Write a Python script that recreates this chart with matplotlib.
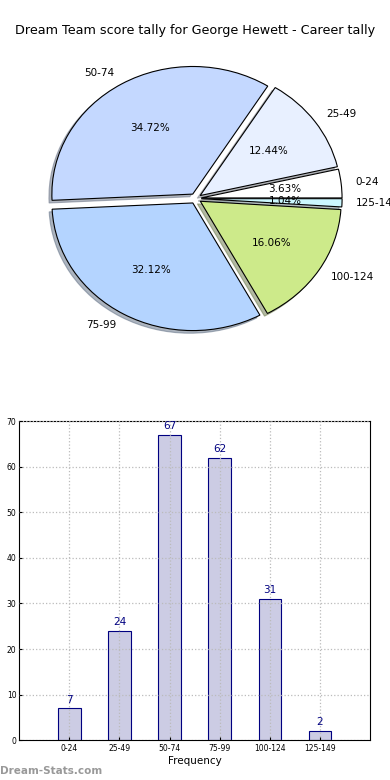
import numpy as np
import matplotlib.pyplot as plt

categories = ['0-24', '25-49', '50-74', '75-99', '100-124', '125-149']
counts = [7, 24, 67, 62, 31, 2]
pie_colors = ['#ffffff', '#e8f0ff', '#c4d8ff', '#b4d4ff', '#cdea8a', '#ccf8ff']

fig = plt.figure(figsize=(3.9, 7.8), dpi=100)
fig.text(0.5, 0.961, 'Dream Team score tally for George Hewett - Career tally',
         ha='center', va='center', fontsize=9.2)

# pie chart
ax1 = fig.add_axes([0.05, 0.541, 0.903, 0.409])
wedges, texts, autotexts = ax1.pie(counts, labels=categories, colors=pie_colors,
                                   explode=[0.04] * len(counts),
                                   shadow={'ox': -0.015, 'oy': -0.015, 'shade': 0.5},
                                   autopct='%.2f%%', startangle=0,
                                   wedgeprops={'edgecolor': 'black', 'linewidth': 0.8},
                                   textprops={'fontsize': 7.5})
ax1.set_aspect('auto')
ax1.set_xlim(-1.25, 1.25)
ax1.set_ylim(-1.25, 1.25)

# bar chart
ax2 = fig.add_axes([0.049, 0.051, 0.9, 0.409])
x = np.arange(len(categories))
bars = ax2.bar(x, counts, width=0.45, color='#ccccE4', edgecolor='navy', linewidth=0.8,
               zorder=2)
for xi, c in zip(x, counts):
    ax2.text(xi, c + 0.8, str(c), ha='center', va='bottom', color='navy', fontsize=7.5,
             zorder=3)
ax2.set_xlim(-1, 6)
ax2.set_ylim(0, 70)
ax2.set_xticks(x)
ax2.set_xticklabels(categories, fontsize=5.5)
ax2.set_yticks(range(0, 71, 10))
ax2.tick_params(axis='y', labelsize=5.5, length=2, direction='in', pad=2)
ax2.tick_params(axis='x', length=2, direction='in', pad=3)
ax2.grid(True, linestyle=':', color='#bbbbbb', linewidth=0.9, zorder=1)
ax2.set_axisbelow(False)
ax2.set_xlabel('Frequency', fontsize=7.5, labelpad=2)

fig.text(0.0, 0.012, 'Dream-Stats.com', fontsize=7.5, color='#999999',
         fontweight='bold', ha='left', va='center')

fig.savefig('out.png', dpi=100)
